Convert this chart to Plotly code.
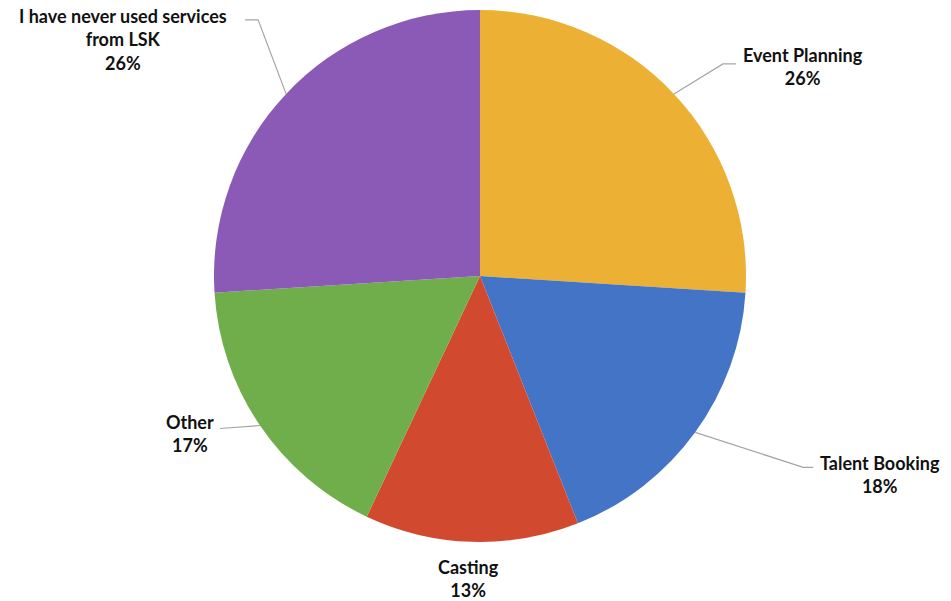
import math
import plotly.graph_objects as go

# Survey: which LSK services have you used?
labels = ["Event Planning", "Talent Booking", "Casting", "Other",
          "I have never used services from LSK"]
display_labels = ["Event Planning", "Talent Booking", "Casting", "Other",
                  "I have never used services<br>from LSK"]
values = [26, 18, 13, 17, 26]
colors = ["#ECB034", "#4474C6", "#D14A30", "#6FAE4B", "#8B5AB7"]

W, H = 951, 601
CX, CY, R = 480, 276, 266  # pie centre and radius in pixels

# label placement: (text centre dx, dy from the slice edge point), leader path elbow offsets
label_layout = {
    "Event Planning": {"text": (129, -27), "path": [(49, -30), (62, -30)]},
    "Talent Booking": {"text": (185, 42), "path": [(108, 35), (118, 35)]},
    "Casting": {"text": (-3, 37), "path": []},
    "Other": {"text": (-70, 8), "path": [(-40, 3)]},
    "I have never used services from LSK": {"text": (-163, -54), "path": [(-28, -74), (-41, -74)]},
}


def px_to_paper(x, y):
    return x / W, 1 - y / H


fig = go.Figure()
x0, y1 = px_to_paper(CX - R, CY - R)
x1, y0 = px_to_paper(CX + R, CY + R)
fig.add_trace(go.Pie(
    labels=labels, values=values, sort=False, direction="clockwise", rotation=0,
    marker=dict(colors=colors, line=dict(color="white", width=0)),
    textinfo="none", hoverinfo="label+percent", showlegend=False,
    domain=dict(x=[x0, x1], y=[y0, y1]),
))

total = sum(values)
cum = 0.0
shapes, annotations = [], []
for lab, disp, v in zip(labels, display_labels, values):
    mid = (cum + v / 2) / total * 2 * math.pi
    cum += v
    ex = CX + R * math.sin(mid)
    ey = CY - R * math.cos(mid)
    lay = label_layout[lab]
    pts = [(ex, ey)] + [(ex + dx, ey + dy) for dx, dy in lay["path"]]
    if len(pts) > 1:
        path = ""
        for i, (px, py) in enumerate(pts):
            qx, qy = px_to_paper(px, py)
            path += ("M" if i == 0 else "L") + f"{qx},{qy} "
        shapes.append(dict(type="path", xref="paper", yref="paper", path=path.strip(),
                           line=dict(color="#A5A5A5", width=1.2)))
    tx, ty = px_to_paper(ex + lay["text"][0], ey + lay["text"][1])
    pct = round(v / total * 100)
    annotations.append(dict(
        x=tx, y=ty, xref="paper", yref="paper", showarrow=False,
        text=f"<b>{disp}<br>{pct}%</b>", align="center",
        xanchor="center", yanchor="middle",
        font=dict(family="Lato", size=18, color="#111111"),
    ))

fig.update_layout(
    width=W, height=H, margin=dict(l=0, r=0, t=0, b=0),
    paper_bgcolor="white", plot_bgcolor="white",
    shapes=shapes, annotations=annotations,
)
fig.write_html("out.html")
